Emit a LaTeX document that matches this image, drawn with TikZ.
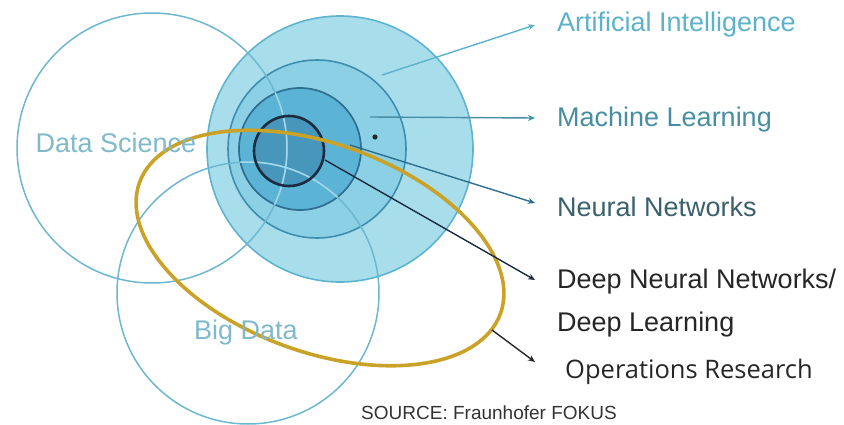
\documentclass[tikz,border=0pt]{standalone}
\usepackage{fontspec}
\setmainfont{Liberation Sans}
\newfontfamily\orfont{Open Sans}
\usetikzlibrary{arrows.meta}

\definecolor{aiFill}{HTML}{A8DDEC}
\definecolor{aiLine}{HTML}{5EB4CE}
\definecolor{mlFill}{HTML}{8CD0E6}
\definecolor{mlLine}{HTML}{3E8FAE}
\definecolor{nnFill}{HTML}{5BB3D6}
\definecolor{nnLine}{HTML}{2E6E8E}
\definecolor{dlFill}{HTML}{4796BB}
\definecolor{dlLine}{HTML}{1C2C40}
\definecolor{setLine}{HTML}{6DB7CF}
\definecolor{setLight}{HTML}{A2D8EA}
\definecolor{setText}{HTML}{80B9CC}
\definecolor{orGold}{HTML}{C9A227}
\definecolor{aiText}{HTML}{5CB2CA}
\definecolor{mlText}{HTML}{468EA2}
\definecolor{nnText}{HTML}{3A606B}
\definecolor{darkText}{HTML}{262626}

\tikzset{
  disk/.style={circle, inner sep=0pt, line width=1.6pt},
  setring/.style={draw=setLine, line width=1.5pt},
  lbl/.style={anchor=west, inner sep=0pt, font=\fontsize{27}{31}\selectfont},
  setlbl/.style={inner sep=0pt, text=setText, font=\fontsize{27}{31}\selectfont},
  pointer/.style={line width=1.4pt, -{Stealth[length=7pt,width=6pt]}},
}

\begin{document}
\begin{tikzpicture}[x=1pt, y=-1pt]
  \useasboundingbox (0,0) rectangle (844,425);

  % nested fields: AI > ML > NN > DL
  \fill[aiFill] (340,149) circle [radius=133];
  \draw[aiLine, line width=1.6pt] (340,149) circle [radius=133];
  \fill[mlFill] (317,149) circle [radius=89];
  \draw[mlLine, line width=1.6pt] (317,149) circle [radius=89];
  \fill[nnFill] (300,149) circle [radius=61];
  \draw[nnLine, line width=1.7pt] (300,149) circle [radius=61];
  \fill[dlFill] (289,151) circle [radius=35];

  % Data Science and Big Data outlines, lighter inside the inner fields
  \draw[setring] (152,148) circle [radius=135];
  \draw[setring] (248,293) circle [radius=131];
  \begin{scope}
    \clip (300,149) circle [radius=61];
    \draw[setLight, line width=1.5pt] (152,148) circle [radius=135];
    \draw[setLight, line width=1.5pt] (248,293) circle [radius=131];
  \end{scope}
  \draw[dlLine, line width=2.6pt] (289,151) circle [radius=35];

  \fill[black!85] (375,137) circle [radius=2.6];

  % Operations Research
  \begin{scope}[shift={(320,248)}, rotate=-20]
    \draw[orGold, line width=3.6pt] (0,0) ellipse [x radius=192, y radius=104];
  \end{scope}

  % labels
  \node[setlbl] (ds) at (116,143) {Data Science};
  \node[setlbl] (bd) at (246,333) {Big Data};

  \node[lbl, text=aiText] (ai) at (557,25) {Artificial Intelligence};
  \node[lbl, text=mlText] (ml) at (557,120) {Machine Learning};
  \node[lbl, text=nnText] (nn) at (557,207) {Neural Networks};
  \node[lbl, text=darkText] (dnn) at (557,282) {Deep Neural Networks/};
  \node[lbl, text=darkText] (dl) at (557,325) {Deep Learning};
  \node[anchor=west, inner sep=0pt, text=darkText, font=\orfont\fontsize{25.5}{30}\selectfont] (or) at (565,372) {Operations Research};
  \node[inner sep=0pt, text=black!80, font=\fontsize{19}{22}\selectfont] (src) at (489,413) {SOURCE: Fraunhofer FOKUS};

  % pointers
  \coordinate (aiFrom) at (382,75);   \coordinate (aiTo) at (535,25);
  \coordinate (mlFrom) at (370,117);  \coordinate (mlTo) at (535,118);
  \coordinate (nnFrom) at (350,145);  \coordinate (nnTo) at (535,203);
  \coordinate (dlFrom) at (325,160);  \coordinate (dlTo) at (535,280);
  \coordinate (orFrom) at (492,330);  \coordinate (orTo) at (535,362);

  \draw[pointer, aiText] (aiFrom) -- (aiTo);
  \draw[pointer, mlText] (mlFrom) -- (mlTo);
  \draw[pointer, nnLine] (nnFrom) -- (nnTo);
  \draw[pointer, dlLine] (dlFrom) -- (dlTo);
  \draw[pointer, black!85] (orFrom) -- (orTo);
\end{tikzpicture}
\end{document}
